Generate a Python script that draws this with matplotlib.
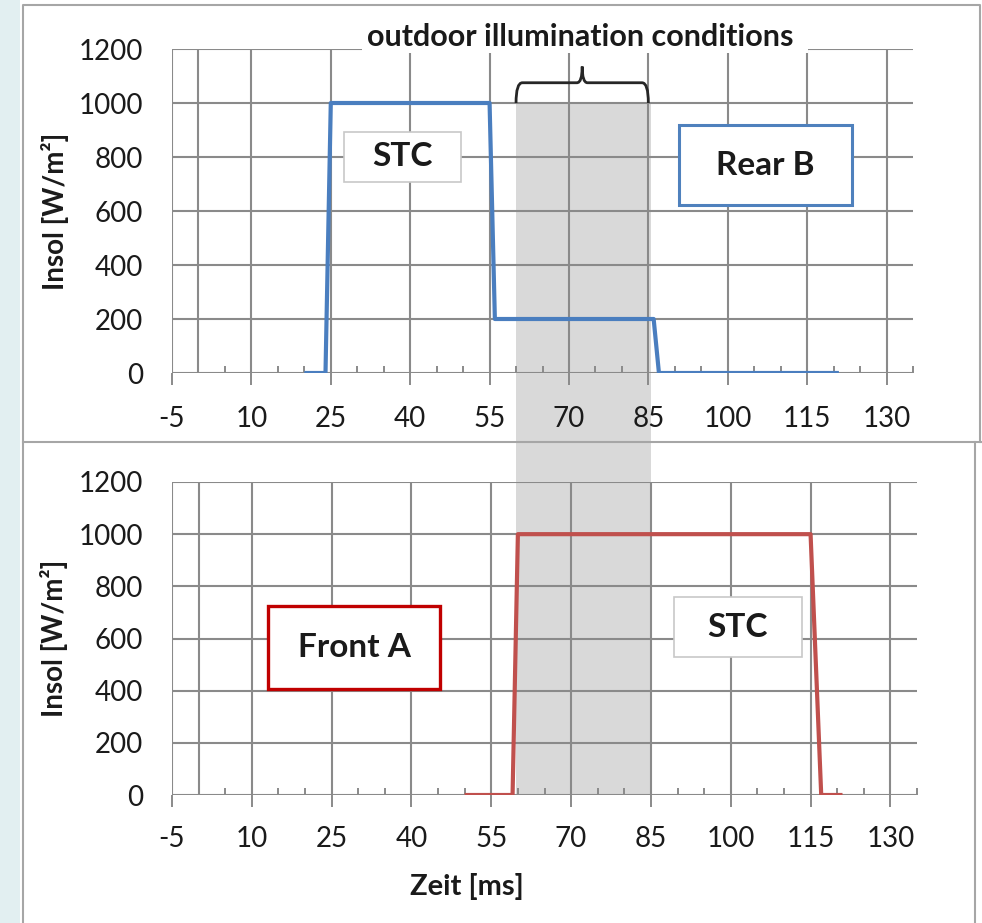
import matplotlib
matplotlib.use("Agg")
import matplotlib.pyplot as plt
from matplotlib.patches import Rectangle, PathPatch
from matplotlib.lines import Line2D
from matplotlib.path import Path
from matplotlib.ticker import MultipleLocator

# Irradiance profiles of the two flashes (time in ms, irradiance in W/m²)
rear_t = [20, 24, 25, 55, 56, 86, 87, 121]
rear_g = [0, 0, 1000, 1000, 200, 200, 0, 0]
front_t = [50, 59, 60, 115, 117, 121]
front_g = [0, 0, 1000, 1000, 0, 0]

x_ticks = list(range(-5, 131, 15))
y_ticks = list(range(0, 1201, 200))
x_limits = (-5, 135)
y_limits = (0, 1200)
outdoor_window = (60, 85)

W, H, DPI = 982, 923, 100
plt.rcParams["font.family"] = ["Lato", "DejaVu Sans"]
plt.rcParams["axes.unicode_minus"] = False

fig = plt.figure(figsize=(W / DPI, H / DPI), dpi=DPI)
fig.patch.set_facecolor("white")


def fpos(x0, y0, x1, y1):
    """Pixel box (top-left origin) -> figure fraction [l, b, w, h]."""
    return [x0 / W, 1 - y1 / H, (x1 - x0) / W, (y1 - y0) / H]


GRID = "#8a8a8a"
TXT = "#1a1a1a"
ax_top = fig.add_axes(fpos(172, 49, 913, 373))
ax_bot = fig.add_axes(fpos(172, 482, 917, 795))


def style(ax, pad_x):
    ax.set_facecolor("none")
    ax.set_xlim(*x_limits)
    ax.set_ylim(*y_limits)
    for s in ax.spines.values():
        s.set_visible(False)
    ax.set_xticks(x_ticks)
    ax.set_yticks(y_ticks)
    ax.xaxis.set_minor_locator(MultipleLocator(5))
    ax.grid(True, which="major", color=GRID, lw=1.5)
    ax.axvline(0, color=GRID, lw=1.5, zorder=0.5)
    ax.set_axisbelow(True)
    ax.tick_params(axis="x", which="major", direction="out", length=8.5,
                   width=1.4, color=GRID, pad=pad_x, labelsize=20,
                   labelcolor=TXT)
    ax.tick_params(axis="x", which="minor", direction="in", length=5,
                   width=1.4, color=GRID)
    ax.tick_params(axis="y", which="both", length=0, pad=21, labelsize=20,
                   labelcolor=TXT)
    ax.text(-0.158, 0.5, "Insol [W/m²]", transform=ax.transAxes,
            rotation=90, ha="center", va="center", fontsize=20,
            fontweight="bold", color=TXT)


style(ax_top, 15)
style(ax_bot, 14)

ax_top.plot(rear_t, rear_g, color="#4A7EBF", lw=3, solid_joinstyle="round",
            solid_capstyle="butt", zorder=3)
ax_bot.plot(front_t, front_g, color="#C0504D", lw=3, solid_joinstyle="round",
            solid_capstyle="butt", zorder=3)

# Shaded outdoor window spanning both panels
fig.canvas.draw()
inv = fig.transFigure.inverted()
xa, ya = inv.transform(ax_top.transData.transform((outdoor_window[0], 1000)))
xb, yb = inv.transform(ax_bot.transData.transform((outdoor_window[1], 0)))
fig.patches.append(Rectangle((xa, yb), xb - xa, ya - yb, transform=fig.transFigure,
                             facecolor="#D9D9D9", edgecolor="none", zorder=-1))

# Curly brace above the window
mid = sum(outdoor_window) / 2
lo, hi = outdoor_window
yb0, yb1, yb2 = 1000, 1075, 1135
verts = [(lo, yb0), (lo, yb1), (lo + 1.2, yb1), (mid - 1.0, yb1), (mid, yb1), (mid, yb2),
         (hi, yb0), (hi, yb1), (hi - 1.2, yb1), (mid + 1.0, yb1), (mid, yb1), (mid, yb2)]
codes = [Path.MOVETO, Path.CURVE3, Path.CURVE3, Path.LINETO, Path.CURVE3, Path.CURVE3] * 2
ax_top.add_patch(PathPatch(Path(verts, codes), facecolor="none", edgecolor="#262626",
                           lw=2, clip_on=False, zorder=4))

# Panel frames and left strip
fig.patches.append(Rectangle((0, 0), 20 / W, 1, transform=fig.transFigure,
                             facecolor="#E2EFF1", edgecolor="none", zorder=-2))
frame = dict(color="#a6a6a6", lw=1.5, transform=fig.transFigure, zorder=1)


def fline(xs, ys):
    fig.lines.append(Line2D([x / W for x in xs], [1 - y / H for y in ys], **frame))


fline([23, 23, 980, 980], [923, 5, 5, 442])
fline([23, 982], [442, 442])
fline([975, 975], [442, 923])

# Title over the top gridline
fig.patches.append(Rectangle((362 / W, 1 - 53 / H), (808 - 362) / W, 41 / H,
                             transform=fig.transFigure, facecolor="white",
                             edgecolor="none", zorder=2))
fig.text(580 / W, 1 - 37 / H, "outdoor illumination conditions", ha="center",
         va="center", fontsize=22, fontweight="bold", color=TXT, zorder=3)

fig.text(467 / W, 1 - 886 / H, "Zeit [ms]", ha="center", va="center",
         fontsize=21, fontweight="bold", color=TXT)


def label_box(ax, x0, x1, y0, y1, text, edge, lw, size=24):
    ax.add_patch(Rectangle((x0, y0), x1 - x0, y1 - y0, facecolor="white",
                           edgecolor=edge, lw=lw, zorder=5))
    ax.text((x0 + x1) / 2, (y0 + y1) / 2, text, ha="center", va="center",
            fontsize=size, fontweight="bold", color=TXT, zorder=6)


label_box(ax_top, 27.5, 49.6, 707, 893, "STC", "#C8C8C8", 1.2)
label_box(ax_top, 90.8, 123.4, 622, 918, "Rear B", "#4F81BD", 2.2)
label_box(ax_bot, 13.0, 45.4, 406, 725, "Front A", "#C00000", 2.4)
label_box(ax_bot, 89.3, 113.4, 529, 759, "STC", "#C8C8C8", 1.2)

fig.savefig("out.png", dpi=DPI)
